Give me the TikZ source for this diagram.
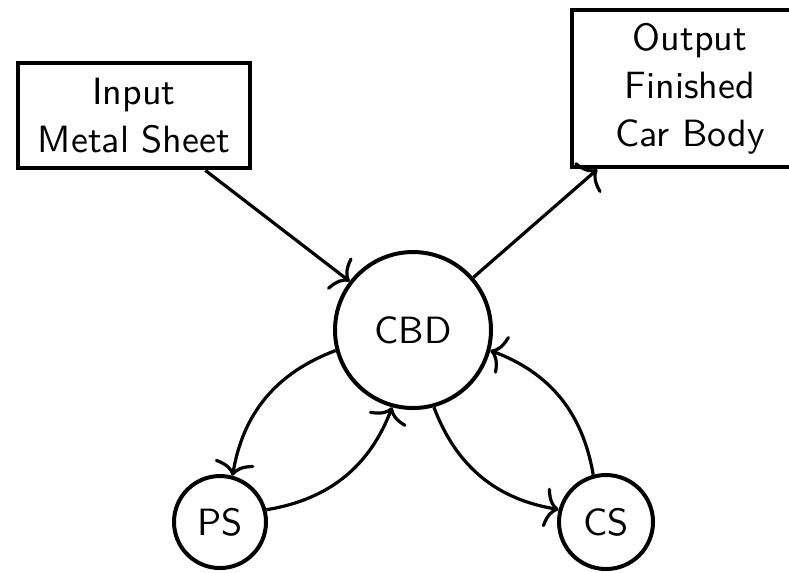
\documentclass[tikz,border=0pt]{standalone}
\usetikzlibrary{arrows.meta}
\begin{document}
\begin{tikzpicture}[x=0.25pt,y=-0.25pt,
  font=\sffamily\fontsize{9.5}{12}\selectfont,
  boxnode/.style={draw,line width=1.2pt,rectangle,align=center,inner sep=0pt},
  circnode/.style={draw,line width=1pt,circle,inner sep=0pt},
  arr/.style={line width=0.8pt,-{To[length=3.5pt,width=10pt]}}]
\useasboundingbox (0,0) rectangle (789,572);
\begin{scope}
\clip (0,0) rectangle (789,572);
\node[boxnode,minimum width=58pt,minimum height=26.25pt] (input) at (134,115.5) {Input\\Metal Sheet};
\node[boxnode,minimum width=59pt,minimum height=39.25pt] (output) at (690,88.5) {Output\\Finished\\Car Body};
\node[circnode,minimum size=39pt] (cbd) at (413,330) {CBD};
\node[circnode,minimum size=23pt] (ps) at (220,522) {PS};
\node[circnode,minimum size=23.5pt] (cs) at (606,522) {CS};
\draw[arr] (input) -- (cbd);
\draw[arr] (cbd) -- (output);
\draw[arr] (cbd) to[bend right] (ps);
\draw[arr] (ps) to[bend right] (cbd);
\draw[arr] (cbd) to[bend right] (cs);
\draw[arr] (cs) to[bend right] (cbd);
\end{scope}
\end{tikzpicture}
\end{document}
